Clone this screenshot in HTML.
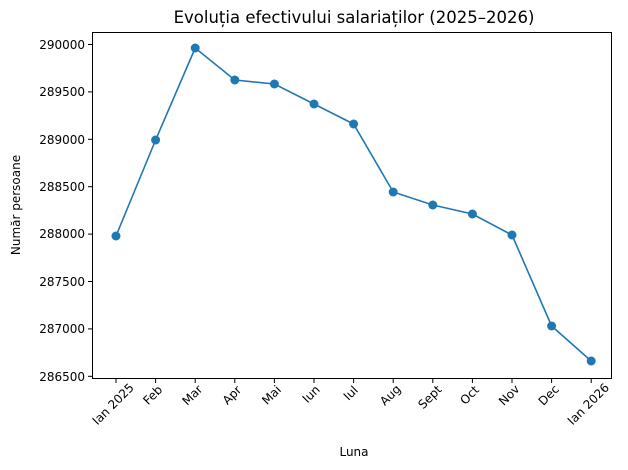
<!DOCTYPE html>
<html><head><meta charset="utf-8"><style>body{margin:0;background:#fff}svg{display:block}text{font-family:"DejaVu Sans","Liberation Sans",sans-serif;fill:#000}</style></head>
<body>
<svg width="628" height="470" viewBox="0 0 628 470" xmlns="http://www.w3.org/2000/svg">
<rect width="628" height="470" fill="#fff"/>
<text x="354" y="23" font-size="16.5" text-anchor="middle">Evoluția efectivului salariaților (2025–2026)</text>
<rect x="92.5" y="32.5" width="519" height="346" fill="none" stroke="#000" stroke-width="1"/>
<g font-size="12" text-anchor="end">
<g stroke="#000"><line x1="88" x2="92" y1="44.5" y2="44.5"/><line x1="88" x2="92" y1="91.9" y2="91.9"/><line x1="88" x2="92" y1="139.3" y2="139.3"/><line x1="88" x2="92" y1="186.7" y2="186.7"/><line x1="88" x2="92" y1="234.1" y2="234.1"/><line x1="88" x2="92" y1="281.5" y2="281.5"/><line x1="88" x2="92" y1="328.9" y2="328.9"/><line x1="88" x2="92" y1="376.3" y2="376.3"/></g>
<text x="85" y="49">290000</text><text x="85" y="96">289500</text><text x="85" y="144">289000</text><text x="85" y="191">288500</text><text x="85" y="238">288000</text><text x="85" y="286">287500</text><text x="85" y="333">287000</text><text x="85" y="381">286500</text>
</g>
<text transform="translate(20,205) rotate(-90)" font-size="12" text-anchor="middle">Număr persoane</text>
<text x="354" y="456" font-size="12" text-anchor="middle">Luna</text>
<g stroke="#000">
<line x1="116" x2="116" y1="379" y2="383"/><line x1="155.6" x2="155.6" y1="379" y2="383"/><line x1="195.2" x2="195.2" y1="379" y2="383"/><line x1="234.8" x2="234.8" y1="379" y2="383"/><line x1="274.4" x2="274.4" y1="379" y2="383"/><line x1="314" x2="314" y1="379" y2="383"/><line x1="353.6" x2="353.6" y1="379" y2="383"/><line x1="393.2" x2="393.2" y1="379" y2="383"/><line x1="432.8" x2="432.8" y1="379" y2="383"/><line x1="472.4" x2="472.4" y1="379" y2="383"/><line x1="512" x2="512" y1="379" y2="383"/><line x1="551.6" x2="551.6" y1="379" y2="383"/><line x1="591.2" x2="591.2" y1="379" y2="383"/>
</g>
<g font-size="12" text-anchor="middle">
<text transform="translate(116,407) rotate(-45)">Ian 2025</text>
<text transform="translate(155.6,398) rotate(-45)">Feb</text>
<text transform="translate(195.2,398) rotate(-45)">Mar</text>
<text transform="translate(234.8,398) rotate(-45)">Apr</text>
<text transform="translate(274.4,398) rotate(-45)">Mai</text>
<text transform="translate(314,397) rotate(-45)">Iun</text>
<text transform="translate(353.6,396) rotate(-45)">Iul</text>
<text transform="translate(393.2,398) rotate(-45)">Aug</text>
<text transform="translate(432.8,400) rotate(-45)">Sept</text>
<text transform="translate(472.4,398) rotate(-45)">Oct</text>
<text transform="translate(512,398) rotate(-45)">Nov</text>
<text transform="translate(551.6,398) rotate(-45)">Dec</text>
<text transform="translate(591.2,407) rotate(-45)">Ian 2026</text>
</g>
<polyline fill="none" stroke="#1f77b4" stroke-width="1.6" points="116,236 155.6,140 195.2,48 234.8,80 274.4,84 314,104 353.6,124 393.2,192 432.8,205 472.4,214 512,235 551.6,326 591.2,361"/>
<g fill="#1f77b4">
<circle cx="116" cy="236" r="4.5"/><circle cx="155.6" cy="140" r="4.5"/><circle cx="195.2" cy="48" r="4.5"/><circle cx="234.8" cy="80" r="4.5"/><circle cx="274.4" cy="84" r="4.5"/><circle cx="314" cy="104" r="4.5"/><circle cx="353.6" cy="124" r="4.5"/><circle cx="393.2" cy="192" r="4.5"/><circle cx="432.8" cy="205" r="4.5"/><circle cx="472.4" cy="214" r="4.5"/><circle cx="512" cy="235" r="4.5"/><circle cx="551.6" cy="326" r="4.5"/><circle cx="591.2" cy="361" r="4.5"/>
</g>
</svg>
</body></html>
